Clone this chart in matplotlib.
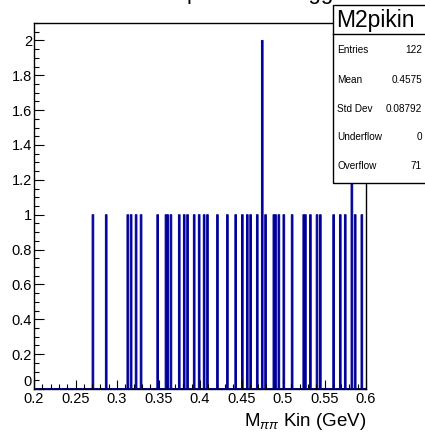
import numpy as np
import matplotlib
matplotlib.use("Agg")
import matplotlib.pyplot as plt
from matplotlib.patches import Rectangle
from matplotlib.ticker import MultipleLocator, FuncFormatter

plt.rcParams['font.family'] = ['Liberation Sans', 'DejaVu Sans']
plt.rcParams['mathtext.fontset'] = 'custom'
plt.rcParams['mathtext.rm'] = 'Liberation Sans'
plt.rcParams['mathtext.it'] = 'Liberation Sans:italic'

# M(pi pi) kinematic-fit values falling inside the 0.2-0.6 GeV window
mpipi = [0.271, 0.287, 0.313, 0.317, 0.323, 0.329, 0.349, 0.359, 0.361,
         0.365, 0.375, 0.381, 0.385, 0.393, 0.399, 0.405, 0.409, 0.421,
         0.433, 0.443, 0.451, 0.457, 0.461, 0.469, 0.475, 0.475, 0.479,
         0.489, 0.491, 0.495, 0.501, 0.511, 0.525, 0.527, 0.533, 0.541,
         0.545, 0.561, 0.569, 0.575, 0.583, 0.583, 0.587, 0.595]

n_bins = 200
x_range = (0.2, 0.6)

stats_name = "M2pikin"
stats_labels = ["Entries", "Mean", "Std Dev", "Underflow", "Overflow"]
stats_values = ["122", "0.4575", "0.08792", "0", "71"]

W, H = 425, 441
fig = plt.figure(figsize=(W / 100, H / 100), dpi=100)


def fx(px):
    return px / W


def fy(py):
    return 1 - py / H


ax = fig.add_axes([fx(34), fy(389), (366 - 34) / W, (389 - 23) / H])

# thin bins: fill them so each occupied bin reads as a solid line
_, _, patches = ax.hist(mpipi, bins=n_bins, range=x_range,
                        histtype='stepfilled', facecolor='#000099',
                        edgecolor='#000099', linewidth=0.7)
for p in patches:
    p.set_snap(False)

ax.set_xlim(*x_range)
ax.set_ylim(0, 2.1)

ax.xaxis.set_major_locator(MultipleLocator(0.05))
ax.xaxis.set_minor_locator(MultipleLocator(0.01))
ax.yaxis.set_major_locator(MultipleLocator(0.2))
ax.yaxis.set_minor_locator(MultipleLocator(0.05))
ax.xaxis.set_major_formatter(FuncFormatter(lambda v, p: f"{v:.3g}"))
ax.yaxis.set_major_formatter(FuncFormatter(lambda v, p: f"{v:.2g}"))

ax.tick_params(which='both', direction='in', top=False, right=False,
               labelsize=10.5, width=0.8, colors='black')
ax.tick_params(axis='x', which='major', length=6.5, pad=2)
ax.tick_params(axis='x', which='minor', length=3.3)
ax.tick_params(axis='y', which='major', length=7, pad=1.5)
ax.tick_params(axis='y', which='minor', length=3.5)
for lbl in ax.get_yticklabels():
    if lbl.get_text() == '0':
        lbl.set_verticalalignment('bottom')
for s in ax.spines.values():
    s.set_linewidth(1.0)
    s.set_zorder(3)

ax.set_xlabel(r"M$_{\pi\pi}$ Kin (GeV)", fontsize=13.5, loc='right',
              labelpad=4)

# title, mostly above the canvas
fig.text(fx(255), fy(-0.5), "M2pikin after trigger", fontsize=16,
         ha='center', va='baseline')

# statistics box
box = Rectangle((fx(333), fy(183)), fx(100), fy(5) - fy(183),
                transform=fig.transFigure, facecolor='white',
                edgecolor='black', linewidth=1.0, zorder=5)
fig.add_artist(box)
fig.add_artist(plt.Line2D([fx(333), fx(430)], [fy(34), fy(34)],
                          transform=fig.transFigure, color='black',
                          linewidth=1.0, zorder=6))
fig.text(fx(336), fy(20), stats_name, fontsize=16.5, ha='left',
         va='center', zorder=7)
rows_y = [50, 80, 109, 137, 166]
for lab, val, ry in zip(stats_labels, stats_values, rows_y):
    fig.text(fx(337), fy(ry), lab, fontsize=7.2, ha='left', va='center',
             zorder=7)
    fig.text(fx(422), fy(ry), val, fontsize=7.2, ha='right', va='center',
             zorder=7)

fig.savefig("out.png", dpi=100)
